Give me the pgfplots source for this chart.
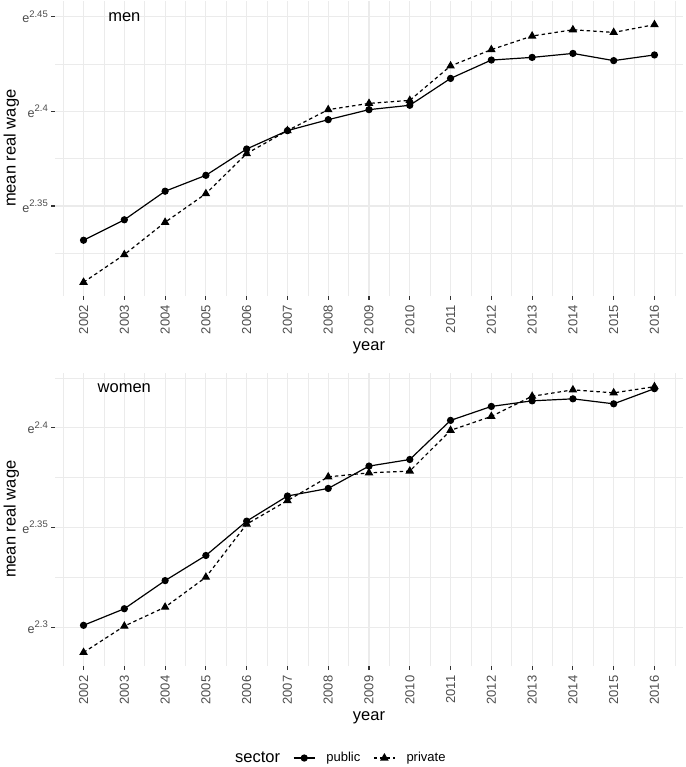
\documentclass[border=0pt]{standalone}
\usepackage{fontspec}
\setmainfont{Liberation Sans}
\usepackage{pgfplots}
\pgfplotsset{compat=1.18}
\usepackage{pgfplotstable}
\definecolor{gridc}{HTML}{EBEBEB}
\definecolor{tickc}{HTML}{4D4D4D}
\definecolor{tickm}{HTML}{333333}
\newcommand{\ee}[1]{e\raisebox{0.45em}{\fontsize{9.5}{9.5}\selectfont #1}}

\pgfplotstableread{
year pub priv
2002 2.3319 2.3097
2003 2.3427 2.3243
2004 2.3578 2.3414
2005 2.3662 2.3565
2006 2.3801 2.3777
2007 2.3898 2.3898
2008 2.3956 2.4009
2009 2.4009 2.4042
2010 2.4032 2.4058
2011 2.4174 2.4240
2012 2.4271 2.4326
2013 2.4285 2.4398
2014 2.4306 2.4431
2015 2.4268 2.4417
2016 2.4298 2.4458
}\men
\pgfplotstableread{
year pub priv
2002 2.3010 2.2874
2003 2.3093 2.3006
2004 2.3234 2.3101
2005 2.3360 2.3251
2006 2.3532 2.3517
2007 2.3658 2.3635
2008 2.3696 2.3754
2009 2.3808 2.3774
2010 2.3841 2.3783
2011 2.4037 2.3987
2012 2.4107 2.4057
2013 2.4135 2.4158
2014 2.4145 2.4190
2015 2.4120 2.4175
2016 2.4196 2.4206
}\women

\pgfplotsset{
 panel/.style={
  scale only axis, width=628pt,
  xmin=2001.3, xmax=2016.7,
  axis line style={draw=none},
  xtick={2002,2003,2004,2005,2006,2007,2008,2009,2010,2011,2012,2013,2014,2015,2016},
  xticklabels={2002,2003,2004,2005,2006,2007,2008,2009,2010,2011,2012,2013,2014,2015,2016},
  minor xtick={2001.5,2002.5,2003.5,2004.5,2005.5,2006.5,2007.5,2008.5,2009.5,2010.5,2011.5,2012.5,2013.5,2014.5,2015.5,2016.5},
  minor ytick={2.325,2.375,2.425},
  grid=both,
  major grid style={gridc, line width=1.1pt},
  minor grid style={gridc, line width=0.55pt},
  tick align=outside, major tick length=4pt, minor tick length=0pt,
  tick pos=left,
  major tick style={tickm, line width=1.1pt},
  xticklabel style={rotate=90, anchor=east, font=\fontsize{13}{13}\selectfont, text=tickc, inner sep=0pt},
  yticklabel style={anchor=east, font=\fontsize{12.6}{12.6}\selectfont, text=tickc, inner sep=0pt},
  xticklabel shift=5.5pt, yticklabel shift=3pt,
  xlabel={year}, ylabel={mean real wage},
  label style={font=\fontsize{16.5}{16.5}\selectfont, inner sep=0pt},
  ylabel style={at={(axis description cs:-0.0696,0.5)}, anchor=center},
  legend image code/.code={\draw[mark repeat=2, mark phase=2] plot coordinates {(0pt,0pt)(10.5pt,0pt)(21pt,0pt)};},
 },
 pub/.style={black, line width=1.2pt, mark=*, mark size=3pt, mark options={solid}},
 priv/.style={black, line width=1.2pt, dash pattern=on 3.5pt off 3pt, mark=triangle*, mark size=3.8pt, mark options={solid}},
}

\begin{document}
\begin{tikzpicture}
\useasboundingbox (0pt,0pt) rectangle (685pt,-767pt);

\begin{axis}[panel,
  at={(55pt,-295.5pt)}, anchor=south west, height=294.5pt,
  ymin=2.3027, ymax=2.4583,
  ytick={2.35,2.4,2.45}, yticklabels={\ee{2.35},\ee{2.4},\ee{2.45}},
  xlabel style={at={(axis description cs:0.5,-0.1766)}, anchor=center},
]
\addplot[pub] table[x=year, y=pub] {\men};
\addplot[priv] table[x=year, y=priv] {\men};
\node[font=\fontsize{16.5}{16.5}\selectfont, anchor=center] at (axis cs:2003,2.45) {men};
\end{axis}

\begin{axis}[panel,
  at={(55pt,-666pt)}, anchor=south west, height=293.5pt,
  ymin=2.2806, ymax=2.4277,
  ytick={2.3,2.35,2.4}, yticklabels={\ee{2.3},\ee{2.35},\ee{2.4}},
  xlabel style={at={(axis description cs:0.5,-0.178)}, anchor=center},
  legend columns=-1,
  legend cell align=left,
  legend style={draw=none, fill=none, inner sep=0pt, at={(axis description cs:0.2691,-0.3135)}, anchor=west,
    font=\fontsize{13}{13}\selectfont, nodes={inner sep=0pt},
    /tikz/every even column/.append style={column sep=13pt},
    /tikz/every odd column/.append style={column sep=11pt}},
]
\addlegendimage{empty legend}
\addlegendentry{\fontsize{16.5}{16.5}\selectfont sector}
\addplot[pub] table[x=year, y=pub] {\women};
\addlegendentry{public}
\addplot[priv] table[x=year, y=priv] {\women};
\addlegendentry{private}
\node[font=\fontsize{16.5}{16.5}\selectfont, anchor=center] at (axis cs:2003,2.42) {women};
\end{axis}
\end{tikzpicture}
\end{document}
